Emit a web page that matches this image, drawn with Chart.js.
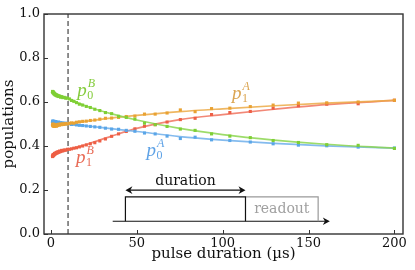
<!DOCTYPE html>
<html>
<head>
<meta charset="utf-8">
<script src="https://cdn.jsdelivr.net/npm/chart.js@4.4.1/dist/chart.umd.min.js"></script>
<style>
html,body{margin:0;padding:0;background:#fff;}
#c{display:block;}
</style>
</head>
<body>
<canvas id="c" width="415" height="270"></canvas>
<script>
// pulse durations (µs), log-spaced measurement points
const durations = [1.0,1.11,1.24,1.38,1.54,1.72,1.91,2.13,2.37,2.65,2.95,3.28,3.66,4.08,4.54,5.06,5.64,6.28,7.0,7.79,8.68,9.67,
  10.78,12.01,13.38,14.9,16.6,18.5,20.61,22.96,25.58,28.5,31.75,35.37,39.41,43.91,48.92,54.5,60.72,67.65,75.37,83.97,93.55,104.2,116.1,129.4,144.1,160.6,178.9,200];

// measured populations
const p0B = [0.648,0.645,0.642,0.646,0.640,0.643,0.636,0.638,0.633,0.635,0.630,0.632,0.627,0.629,0.625,0.626,0.622,0.624,0.620,0.621,0.617,0.618,
  0.614,0.607,0.603,0.597,0.590,0.586,0.580,0.575,0.567,0.561,0.552,0.547,0.535,0.530,0.522,0.504,0.497,0.489,0.477,0.471,0.455,0.445,0.438,0.425,0.416,0.406,0.403,0.389];
const p1A = [0.497,0.492,0.500,0.494,0.490,0.498,0.493,0.489,0.496,0.491,0.495,0.490,0.497,0.493,0.499,0.495,0.500,0.497,0.501,0.498,0.502,0.500,
  0.503,0.505,0.504,0.508,0.510,0.512,0.513,0.516,0.518,0.522,0.526,0.527,0.530,0.534,0.536,0.545,0.545,0.550,0.564,0.556,0.570,0.572,0.579,0.586,0.595,0.596,0.600,0.608];
const p0A = [0.512,0.508,0.514,0.505,0.510,0.507,0.512,0.504,0.509,0.506,0.511,0.503,0.507,0.505,0.509,0.502,0.506,0.503,0.505,0.501,0.504,0.500,
  0.501,0.498,0.499,0.496,0.494,0.493,0.491,0.489,0.487,0.485,0.481,0.477,0.476,0.471,0.467,0.459,0.455,0.445,0.434,0.440,0.428,0.425,0.418,0.410,0.404,0.401,0.395,0.391];
const p1B = [0.352,0.358,0.355,0.361,0.357,0.362,0.360,0.366,0.363,0.368,0.366,0.371,0.369,0.374,0.372,0.377,0.375,0.380,0.378,0.382,0.381,0.385,
  0.385,0.387,0.390,0.392,0.396,0.400,0.405,0.410,0.415,0.423,0.432,0.444,0.455,0.466,0.478,0.490,0.497,0.509,0.520,0.526,0.543,0.552,0.557,0.572,0.583,0.590,0.592,0.608];

// fitted curves
const fitX   = [0,5,10,20,35,50,75,100,130,160,200];
const fitP0B = [0.646,0.632,0.617,0.583,0.547,0.518,0.480,0.452,0.427,0.408,0.390];
const fitP1A = [0.495,0.497,0.501,0.512,0.527,0.539,0.556,0.569,0.583,0.595,0.607];
const fitP0A = [0.510,0.506,0.501,0.492,0.479,0.466,0.443,0.427,0.412,0.401,0.390];
const fitP1B = [0.352,0.368,0.383,0.405,0.444,0.480,0.520,0.543,0.567,0.588,0.607];

const markerX = 10;           // dashed vertical marker (µs)
const xTicks = [0,50,100,150,200];
const yTicks = [0.0,0.2,0.4,0.6,0.8,1.0];

const COL = {g:'#7fcf35', o:'#e9a232', b:'#5aa6e8', r:'#ee5f45'};
const LINECOL = {g:'rgba(140,214,80,0.85)', o:'rgba(236,170,70,0.85)', b:'rgba(110,175,235,0.85)', r:'rgba(240,115,95,0.85)'};

const pts = (xs, ys) => xs.map((x,i)=>({x:x, y:ys[i]}));

function pointSet(ys, c){
  return {data:pts(durations, ys), showLine:false, pointStyle:'rect', pointRadius:2.2,
    backgroundColor:c, borderColor:c, borderWidth:0};
}
function fitSet(ys, c){
  return {data:pts(fitX, ys), showLine:true, pointRadius:0, borderColor:c, borderWidth:1.7,
    cubicInterpolationMode:'monotone', fill:false};
}

const labels = [
  {sub:'0', sup:'B', x:15.3, y:0.628, color:'#84cc3c'},
  {sub:'1', sup:'A', x:105.4, y:0.6145, color:'#dba552'},
  {sub:'0', sup:'A', x:55.7, y:0.356, color:'#5ea2e6'},
  {sub:'1', sup:'B', x:14.7, y:0.324, color:'#e86a55'}
];

const inset = {start:43.4, end:113.3, readoutEnd:155.6, axisStart:36, axisEnd:162.4, base:0.058, top:0.169, arrowY:0.199, textY:0.239, readoutY:0.114};

function arrowHead(ctx, x, y, dir, size){
  ctx.beginPath();
  ctx.moveTo(x, y);
  ctx.lineTo(x - dir*size, y - size*0.55);
  ctx.lineTo(x - dir*size*0.7, y);
  ctx.lineTo(x - dir*size, y + size*0.55);
  ctx.closePath();
  ctx.fill();
}

const decor = {
  id:'decor',
  afterDatasetsDraw(chart){
    const ctx = chart.ctx, xs = chart.scales.x, ys = chart.scales.y, a = chart.chartArea;
    ctx.save();
    const X = v=>xs.getPixelForValue(v), Y = v=>ys.getPixelForValue(v);
    ctx.lineWidth = 1.2;
    ctx.strokeStyle = '#111'; ctx.fillStyle = '#111';
    ctx.beginPath(); ctx.moveTo(X(inset.axisStart), Y(inset.base)); ctx.lineTo(X(inset.axisEnd)-3, Y(inset.base)); ctx.stroke();
    arrowHead(ctx, X(inset.axisEnd), Y(inset.base), 1, 7);
    ctx.strokeStyle = '#999';
    ctx.beginPath();
    ctx.moveTo(X(inset.end), Y(inset.top)); ctx.lineTo(X(inset.readoutEnd), Y(inset.top)); ctx.lineTo(X(inset.readoutEnd), Y(inset.base));
    ctx.stroke();
    ctx.strokeStyle = '#111';
    ctx.beginPath();
    ctx.moveTo(X(inset.start), Y(inset.base)); ctx.lineTo(X(inset.start), Y(inset.top)); ctx.lineTo(X(inset.end), Y(inset.top)); ctx.lineTo(X(inset.end), Y(inset.base));
    ctx.stroke();
    ctx.beginPath(); ctx.moveTo(X(inset.start)+3, Y(inset.arrowY)); ctx.lineTo(X(inset.end)-3, Y(inset.arrowY)); ctx.stroke();
    arrowHead(ctx, X(inset.start), Y(inset.arrowY), -1, 7);
    arrowHead(ctx, X(inset.end), Y(inset.arrowY), 1, 7);
    ctx.font = '14px "DejaVu Serif"';
    ctx.textAlign = 'center'; ctx.textBaseline = 'middle';
    ctx.fillStyle = '#111';
    ctx.fillText('duration', X((inset.start+inset.end)/2), Y(inset.textY));
    ctx.fillStyle = '#a0a0a0';
    ctx.fillText('readout', X((inset.end+inset.readoutEnd)/2), Y(inset.readoutY));

    ctx.textAlign = 'left'; ctx.textBaseline = 'alphabetic';
    labels.forEach(l=>{
      const px = X(l.x), py = Y(l.y);
      ctx.fillStyle = l.color;
      ctx.font = 'italic 19px "Liberation Serif"';
      ctx.fillText('p', px, py);
      const w = ctx.measureText('p').width;
      ctx.font = '12px "Liberation Serif"';
      ctx.fillText(l.sub, px + w + 0.5, py + 3.5);
      ctx.font = 'italic 12px "Liberation Serif"';
      ctx.fillText(l.sup, px + w + 1, py - 9);
    });

    ctx.strokeStyle = '#333'; ctx.lineWidth = 1.4;
    ctx.strokeRect(a.left, a.top, a.right - a.left, a.bottom - a.top);
    ctx.lineWidth = 1;
    ctx.beginPath();
    yTicks.forEach(t=>{ const p = Math.round(Y(t))+0.5; ctx.moveTo(a.left, p); ctx.lineTo(a.left+4, p); });
    xTicks.forEach(t=>{ const p = Math.round(X(t))+0.5; ctx.moveTo(p, a.bottom); ctx.lineTo(p, a.bottom-4); });
    ctx.stroke();
    ctx.restore();
  }
};

new Chart(document.getElementById('c'), {
  type:'scatter',
  data:{datasets:[
    pointSet(p0B, COL.g), pointSet(p1A, COL.o), pointSet(p0A, COL.b), pointSet(p1B, COL.r),
    fitSet(fitP0B, LINECOL.g), fitSet(fitP1A, LINECOL.o), fitSet(fitP0A, LINECOL.b), fitSet(fitP1B, LINECOL.r),
    {data:[{x:markerX,y:0},{x:markerX,y:1}], showLine:true, pointRadius:0, borderColor:'#444', borderWidth:1.2, borderDash:[5,3]}
  ]},
  options:{
    responsive:false, animation:false, devicePixelRatio:1,
    layout:{padding:{top:14, right:12, left:0, bottom:0}},
    plugins:{legend:{display:false}, tooltip:{enabled:false}},
    scales:{
      x:{type:'linear', min:-4, max:205,
        afterBuildTicks(s){ s.ticks = xTicks.map(v=>({value:v})); },
        afterFit(s){ s.height = 36; },
        grid:{display:false, drawTicks:false}, border:{display:false},
        ticks:{color:'#111', font:{family:'DejaVu Serif', size:13}, padding:2, maxRotation:0,
          callback:v=>String(v)},
        title:{display:true, text:'pulse duration (µs)', color:'#111', font:{family:'DejaVu Serif', size:15}, padding:{top:0,bottom:7}}
      },
      y:{min:0, max:1,
        afterBuildTicks(s){ s.ticks = yTicks.map(v=>({value:v})); },
        afterFit(s){ s.width = 44; },
        grid:{display:false, drawTicks:false}, border:{display:false},
        ticks:{color:'#111', font:{family:'DejaVu Serif', size:13}, padding:4,
          callback:v=>Number(v).toFixed(1)},
        title:{display:true, text:'populations', color:'#111', font:{family:'DejaVu Serif', size:15}, padding:{top:0,bottom:0}}
      }
    }
  },
  plugins:[decor]
});
</script>
</body>
</html>
